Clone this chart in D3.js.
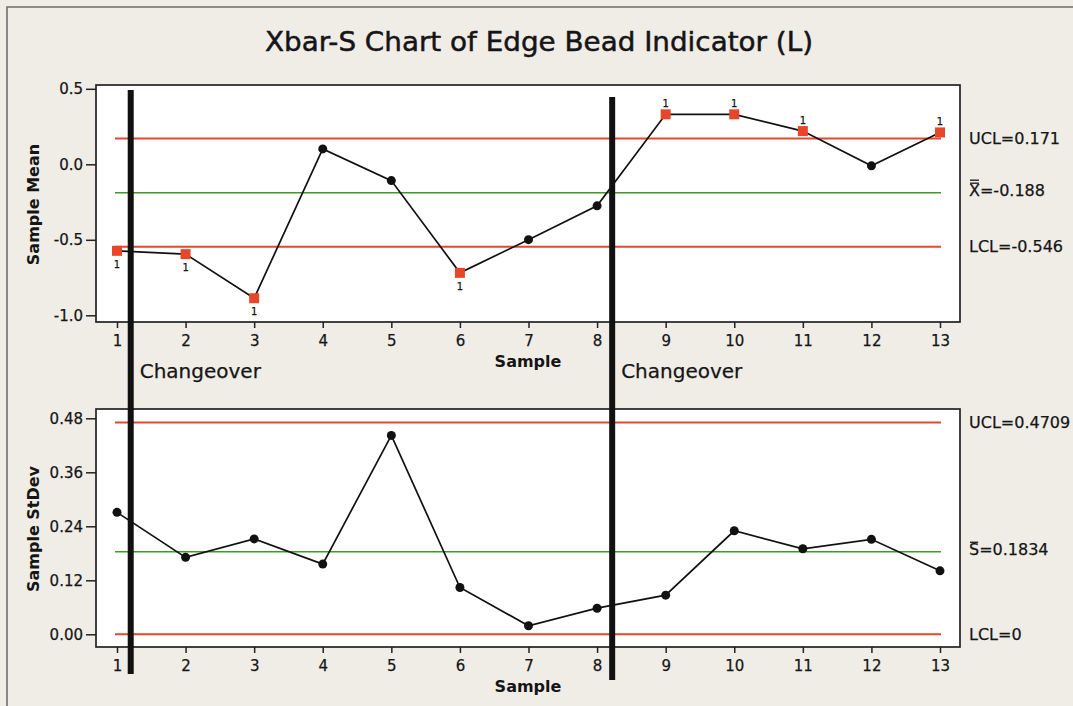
<!DOCTYPE html>
<html>
<head>
<meta charset="utf-8">
<script src="https://cdn.jsdelivr.net/npm/d3@7"></script>
<style>
body{margin:0;background:#f0ede7;}
svg{display:block;}
text{font-family:"DejaVu Sans",sans-serif;fill:#151515;stroke:#151515;stroke-width:0.25px;}
text.bold{stroke-width:0;}
</style>
</head>
<body>
<svg id="chart"></svg>
<script>
// values
var samples = [1,2,3,4,5,6,7,8,9,10,11,12,13]
var sampleMeans = [-0.573,-0.595,-0.887,0.102,-0.108,-0.719,-0.499,-0.275,0.331,0.331,0.220,-0.010,0.211]
var sampleStDevs = [0.271,0.171,0.212,0.156,0.442,0.104,0.019,0.058,0.087,0.230,0.190,0.211,0.141]

var meanLimitValues = [0.171,-0.188,-0.546]
var meanLimitNames = ["UCL","X","LCL"]
var meanLimitText = ["0.171","-0.188","-0.546"]

var sdLimitValues = [0.4709,0.1834,0]
var sdLimitNames = ["UCL","S","LCL"]
var sdLimitText = ["0.4709","0.1834","0"]

var meanTicks = [-1.0,-0.5,0.0,0.5]
var sdTicks = [0,0.12,0.24,0.36,0.48]
var changeoverAt = [1.2,8.22]

var svgw = 1073
var svgh = 706
var red = "#e8462b"
var green = "#3e9a26"

var makeTranslateString = function(x,y)
{
    return "translate("+x+","+y+")";
}

var xscale = d3.scaleLinear().domain([1,13]).range([117,940])
var frameX = {left:96, right:960}

var drawPanel = function(target, p)
{
    // plot area
    target.append("rect")
    .attr("x",frameX.left)
    .attr("y",p.top)
    .attr("width",frameX.right-frameX.left)
    .attr("height",p.bottom-p.top)
    .attr("fill","white")
    .attr("stroke","#222")
    .attr("stroke-width",1.7)

    // control limits
    target.selectAll("line.limit")
    .data(p.limits)
    .enter()
    .append("line")
    .classed("limit",true)
    .attr("x1",xscale(1)-2)
    .attr("x2",xscale(13)+1)
    .attr("y1",function(d){return p.yscale(d)})
    .attr("y2",function(d){return p.yscale(d)})
    .attr("stroke",function(d,i){return i==1 ? green : red})
    .attr("stroke-width",function(d,i){return i==1 ? 1.5 : 2})

    var line = d3.line()
    .x(function(d,i){return xscale(samples[i])})
    .y(function(d){return p.yscale(d)})

    target.append("path")
    .datum(p.values)
    .attr("d",line)
    .attr("fill","none")
    .attr("stroke","#111")
    .attr("stroke-width",1.7)

    var isOut = function(d){return d > p.limits[0] || d < p.limits[2]}

    target.selectAll("circle")
    .data(p.values.map(function(d,i){return {v:d,i:i}}).filter(function(d){return !isOut(d.v)}))
    .enter()
    .append("circle")
    .attr("cx",function(d){return xscale(samples[d.i])})
    .attr("cy",function(d){return p.yscale(d.v)})
    .attr("r",4.5)
    .attr("fill","#111")

    var flagged = p.values.map(function(d,i){return {v:d,i:i}}).filter(function(d){return isOut(d.v)})

    target.selectAll("rect.flag")
    .data(flagged)
    .enter()
    .append("rect")
    .classed("flag",true)
    .attr("x",function(d){return xscale(samples[d.i])-5})
    .attr("y",function(d){return p.yscale(d.v)-5})
    .attr("width",10)
    .attr("height",10)
    .attr("fill",red)

    target.selectAll("text.flag")
    .data(flagged)
    .enter()
    .append("text")
    .classed("flag",true)
    .text("1")
    .attr("text-anchor","middle")
    .attr("font-size",10)
    .attr("x",function(d){return xscale(samples[d.i])})
    .attr("y",function(d){return d.v > p.limits[0] ? p.yscale(d.v)-7 : p.yscale(d.v)+17})

    // axes
    var yAxis = d3.axisLeft(p.yscale)
    .tickValues(p.ticks)
    .tickFormat(function(d){return d.toFixed(p.digits)})
    .tickSize(10)
    .tickPadding(3)
    .tickSizeOuter(0)
    var ya = target.append("g")
    .attr("transform",makeTranslateString(frameX.left,0))
    .call(yAxis)
    ya.select(".domain").remove()
    ya.selectAll("line").attr("stroke","#222").attr("stroke-width",1.5)
    ya.selectAll("text").attr("font-size",15).attr("font-family","DejaVu Sans").attr("fill","#151515")

    var xAxis = d3.axisBottom(xscale)
    .tickValues(samples)
    .tickFormat(d3.format("d"))
    .tickSize(6)
    .tickPadding(7)
    .tickSizeOuter(0)
    var xa = target.append("g")
    .attr("transform",makeTranslateString(0,p.bottom))
    .call(xAxis)
    xa.select(".domain").remove()
    xa.selectAll("line").attr("stroke","#222").attr("stroke-width",1.5)
    xa.selectAll("text").attr("font-size",15).attr("font-family","DejaVu Sans").attr("fill","#151515")

    // axis titles
    target.append("text")
    .text("Sample")
    .classed("bold",true)
    .attr("text-anchor","middle")
    .attr("x",(frameX.left+frameX.right)/2)
    .attr("y",p.bottom+45)
    .attr("font-size",16)
    .attr("font-weight","bold")

    target.append("text")
    .text(p.ylabel)
    .classed("bold",true)
    .attr("text-anchor","middle")
    .attr("transform",makeTranslateString(39,(p.top+p.bottom)/2+1)+" rotate(-90)")
    .attr("font-size",16)
    .attr("font-weight","bold")

    // limit labels on the right
    var labels = target.selectAll("text.limitLabel")
    .data(p.limits)
    .enter()
    .append("text")
    .classed("limitLabel",true)
    .text(function(d,i){return p.names[i]+"="+p.texts[i]})
    .attr("x",969)
    .attr("y",function(d,i){return p.yscale(d)+5.5-(i==1 ? 2 : 0)})
    .attr("font-size",16)

    // bars over X / S of the centre line label
    labels.each(function(d,i)
    {
        if(i!=1) return
        var w = this.getSubStringLength(0,1)
        var by = p.yscale(d)+5.5-2-13
        for(var k=0;k<p.bars;k++)
        {
            target.append("line")
            .attr("x1",969+1)
            .attr("x2",969+w-1)
            .attr("y1",by-k*3)
            .attr("y2",by-k*3)
            .attr("stroke","#151515")
            .attr("stroke-width",1.3)
        }
    })
}

var svg = d3.select("#chart")
.attr("width",svgw)
.attr("height",svgh)

svg.append("rect")
.attr("width",svgw)
.attr("height",svgh)
.attr("fill","#f0ede7")

// outer border (left and top only are visible)
svg.append("path")
.attr("d","M7,"+svgh+" V7 H"+svgw)
.attr("fill","none")
.attr("stroke","#6e6e6e")
.attr("stroke-width",1.6)

svg.append("text")
.text("Xbar-S Chart of Edge Bead Indicator (L)")
.attr("x",265)
.attr("y",51)
.attr("font-size",27)
.attr("textLength",548)
.attr("lengthAdjust","spacingAndGlyphs")
.style("stroke-width","0.5px")

var yMean = d3.scaleLinear().domain([-1,0.5]).range([315.3,88.8])
var ySd = d3.scaleLinear().domain([0,0.48]).range([634.3,418.3])

drawPanel(svg.append("g").attr("id","meanPanel"), {
    top:85, bottom:322, yscale:yMean, values:sampleMeans,
    limits:meanLimitValues, names:meanLimitNames, texts:meanLimitText,
    ticks:meanTicks, digits:1, ylabel:"Sample Mean", bars:2
})
drawPanel(svg.append("g").attr("id","sdPanel"), {
    top:409, bottom:647, yscale:ySd, values:sampleStDevs,
    limits:sdLimitValues, names:sdLimitNames, texts:sdLimitText,
    ticks:sdTicks, digits:2, ylabel:"Sample StDev", bars:1
})

// changeover markers span both panels
var changes = svg.append("g").attr("id","changeovers")
changes.selectAll("rect")
.data(changeoverAt)
.enter()
.append("rect")
.attr("x",function(d){return xscale(d)-3})
.attr("y",function(d,i){return 90+i*7})
.attr("width",6)
.attr("height",function(d,i){return 584+i*-1})
.attr("fill","#111")

changes.selectAll("text")
.data(changeoverAt)
.enter()
.append("text")
.text("Changeover")
.attr("x",function(d){return xscale(d)+9})
.attr("y",378)
.attr("font-size",20)
</script>
</body>
</html>
